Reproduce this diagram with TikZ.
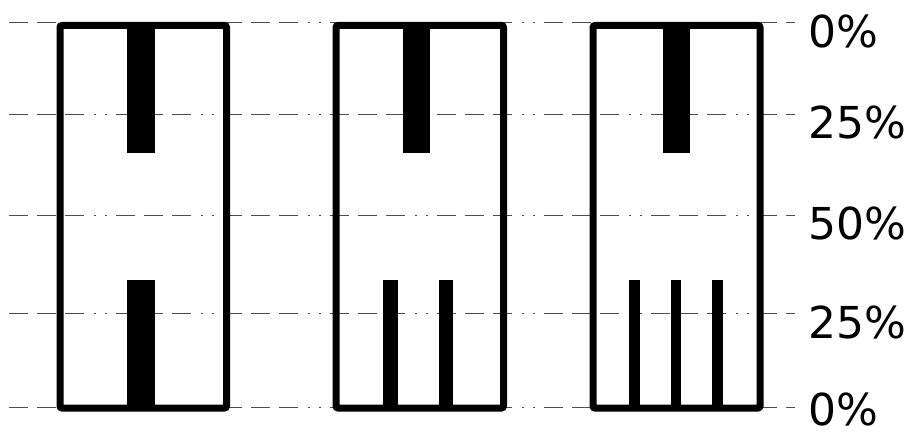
\documentclass[tikz,border=0pt]{standalone}
\usepackage{fontspec}
\setmainfont{DejaVu Sans}
\begin{document}
\begin{tikzpicture}[x=1pt, y=-1pt,
	every path/.style={line width=0.8pt},
	level/.style={draw=black!70, line width=1pt,
				dash pattern=on 19pt off 9pt on 19pt off 9pt on 19pt off 10pt on 2pt off 9pt on 2pt off 9pt},
	box/.style={draw=black, line width=7pt, rounded corners=2pt},
	bar/.style={fill=black, draw=none},
	pct/.style={anchor=base west, inner sep=0, font=\fontsize{44}{48}\selectfont}]
	\useasboundingbox (0,0) rectangle (912,435);
	% levels
	\draw[level] (9,23) -- (795,23);
	\draw[level] (9,115) -- (795,115);
	\draw[level] (9,216) -- (795,216);
	\draw[level] (9,314) -- (795,314);
	\draw[level] (9,407) -- (795,407);
	\node[pct] (p0t) at (808,48) {0\%};
	\node[pct] (p25t) at (808,139) {25\%};
	\node[pct] (p50) at (808,240) {50\%};
	\node[pct] (p25b) at (808,338) {25\%};
	\node[pct] (p0b) at (808,425) {0\%};
	% one wide leg
	\fill[bar] (127,25) rectangle (155,153);
	\fill[bar] (127,280) rectangle (155,408);
	\draw[box] (60,25.5) rectangle (226.5,408);
	% two legs
	\fill[bar] (403,25) rectangle (430,153);
	\fill[bar] (383,280) rectangle (398,408);
	\fill[bar] (439,280) rectangle (453,408);
	\draw[box] (336,25.5) rectangle (503.5,408);
	% three legs
	\fill[bar] (663,25) rectangle (690,153);
	\fill[bar] (629,280) rectangle (640,408);
	\fill[bar] (671,280) rectangle (681,408);
	\fill[bar] (712,280) rectangle (723,408);
	\draw[box] (593,25.5) rectangle (760,408);
\end{tikzpicture}
\end{document}
